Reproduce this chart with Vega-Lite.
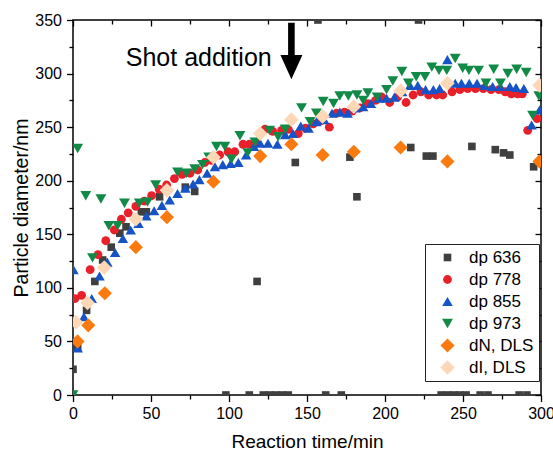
{
  "$schema": "https://vega.github.io/schema/vega-lite/v6.json",
  "autosize": {"type": "none"},
  "padding": {"left": 73, "top": 20, "right": 12, "bottom": 57},
  "width": 468,
  "height": 375,
  "config": {
    "view": {"stroke": "#000", "strokeWidth": 1.5},
    "font": "Liberation Sans",
    "axis": {"grid": false, "domain": false, "labelFont": "Liberation Sans", "titleFont": "Liberation Sans", "labelColor": "#000", "titleColor": "#000", "tickColor": "#000", "tickWidth": 1.3, "titleFontWeight": "normal", "labelFlush": false, "labelOverlap": false}
  },
  "datasets": {
    "pts": [
      {"series": "dp 636", "time": 0, "diameter": 24},
      {"series": "dp 636", "time": 3, "diameter": 45},
      {"series": "dp 636", "time": 8.7, "diameter": 79},
      {"series": "dp 636", "time": 14, "diameter": 106},
      {"series": "dp 636", "time": 19, "diameter": 126},
      {"series": "dp 636", "time": 24.5, "diameter": 138},
      {"series": "dp 636", "time": 30, "diameter": 151},
      {"series": "dp 636", "time": 34, "diameter": 157},
      {"series": "dp 636", "time": 43.8, "diameter": 171},
      {"series": "dp 636", "time": 47, "diameter": 171},
      {"series": "dp 636", "time": 55.5, "diameter": 185},
      {"series": "dp 636", "time": 72, "diameter": 194},
      {"series": "dp 636", "time": 78, "diameter": 190},
      {"series": "dp 636", "time": 98, "diameter": 0},
      {"series": "dp 636", "time": 113, "diameter": 0},
      {"series": "dp 636", "time": 118, "diameter": 106},
      {"series": "dp 636", "time": 122, "diameter": 0},
      {"series": "dp 636", "time": 126, "diameter": 0},
      {"series": "dp 636", "time": 130, "diameter": 0},
      {"series": "dp 636", "time": 134, "diameter": 0},
      {"series": "dp 636", "time": 138, "diameter": 0},
      {"series": "dp 636", "time": 142.5, "diameter": 217},
      {"series": "dp 636", "time": 157, "diameter": 350},
      {"series": "dp 636", "time": 162, "diameter": 0},
      {"series": "dp 636", "time": 172, "diameter": 0},
      {"series": "dp 636", "time": 177.5, "diameter": 222},
      {"series": "dp 636", "time": 182, "diameter": 185},
      {"series": "dp 636", "time": 216.5, "diameter": 231},
      {"series": "dp 636", "time": 221.5, "diameter": 350},
      {"series": "dp 636", "time": 226.5, "diameter": 223},
      {"series": "dp 636", "time": 230.7, "diameter": 223},
      {"series": "dp 636", "time": 236, "diameter": 0},
      {"series": "dp 636", "time": 240, "diameter": 0},
      {"series": "dp 636", "time": 244, "diameter": 0},
      {"series": "dp 636", "time": 248, "diameter": 0},
      {"series": "dp 636", "time": 252, "diameter": 0},
      {"series": "dp 636", "time": 255.7, "diameter": 232},
      {"series": "dp 636", "time": 261, "diameter": 0},
      {"series": "dp 636", "time": 266, "diameter": 0},
      {"series": "dp 636", "time": 270.7, "diameter": 229},
      {"series": "dp 636", "time": 276, "diameter": 226},
      {"series": "dp 636", "time": 280, "diameter": 224},
      {"series": "dp 636", "time": 286, "diameter": 0},
      {"series": "dp 636", "time": 291, "diameter": 0},
      {"series": "dp 636", "time": 295.3, "diameter": 213},

      {"series": "dp 778", "time": 1.2, "diameter": 90},
      {"series": "dp 778", "time": 5.5, "diameter": 93},
      {"series": "dp 778", "time": 11, "diameter": 117},
      {"series": "dp 778", "time": 16, "diameter": 131},
      {"series": "dp 778", "time": 21, "diameter": 144},
      {"series": "dp 778", "time": 26.5, "diameter": 154},
      {"series": "dp 778", "time": 31, "diameter": 164},
      {"series": "dp 778", "time": 35.4, "diameter": 170},
      {"series": "dp 778", "time": 40.3, "diameter": 176},
      {"series": "dp 778", "time": 45.7, "diameter": 181},
      {"series": "dp 778", "time": 50.4, "diameter": 186},
      {"series": "dp 778", "time": 55.3, "diameter": 192},
      {"series": "dp 778", "time": 60, "diameter": 196},
      {"series": "dp 778", "time": 65, "diameter": 202},
      {"series": "dp 778", "time": 70, "diameter": 206},
      {"series": "dp 778", "time": 75, "diameter": 207},
      {"series": "dp 778", "time": 80, "diameter": 210},
      {"series": "dp 778", "time": 84.5, "diameter": 217},
      {"series": "dp 778", "time": 88.8, "diameter": 219},
      {"series": "dp 778", "time": 94, "diameter": 224},
      {"series": "dp 778", "time": 99.4, "diameter": 227},
      {"series": "dp 778", "time": 103.7, "diameter": 227},
      {"series": "dp 778", "time": 109, "diameter": 234},
      {"series": "dp 778", "time": 113, "diameter": 234},
      {"series": "dp 778", "time": 117.6, "diameter": 236},
      {"series": "dp 778", "time": 123, "diameter": 248},
      {"series": "dp 778", "time": 128, "diameter": 246},
      {"series": "dp 778", "time": 133.7, "diameter": 247},
      {"series": "dp 778", "time": 138, "diameter": 248},
      {"series": "dp 778", "time": 144.4, "diameter": 244},
      {"series": "dp 778", "time": 149, "diameter": 249},
      {"series": "dp 778", "time": 154, "diameter": 253},
      {"series": "dp 778", "time": 159, "diameter": 256},
      {"series": "dp 778", "time": 164.3, "diameter": 250},
      {"series": "dp 778", "time": 169, "diameter": 263},
      {"series": "dp 778", "time": 174, "diameter": 264},
      {"series": "dp 778", "time": 179, "diameter": 265},
      {"series": "dp 778", "time": 184, "diameter": 268},
      {"series": "dp 778", "time": 189, "diameter": 272},
      {"series": "dp 778", "time": 194, "diameter": 275},
      {"series": "dp 778", "time": 198, "diameter": 278},
      {"series": "dp 778", "time": 203, "diameter": 273},
      {"series": "dp 778", "time": 208, "diameter": 278},
      {"series": "dp 778", "time": 213.5, "diameter": 273},
      {"series": "dp 778", "time": 218, "diameter": 280},
      {"series": "dp 778", "time": 223, "diameter": 283},
      {"series": "dp 778", "time": 228, "diameter": 280},
      {"series": "dp 778", "time": 233, "diameter": 280},
      {"series": "dp 778", "time": 237, "diameter": 280},
      {"series": "dp 778", "time": 243, "diameter": 283},
      {"series": "dp 778", "time": 248, "diameter": 285},
      {"series": "dp 778", "time": 253, "diameter": 286},
      {"series": "dp 778", "time": 258, "diameter": 286},
      {"series": "dp 778", "time": 263, "diameter": 286},
      {"series": "dp 778", "time": 268, "diameter": 285},
      {"series": "dp 778", "time": 273, "diameter": 285},
      {"series": "dp 778", "time": 277, "diameter": 283},
      {"series": "dp 778", "time": 281, "diameter": 281},
      {"series": "dp 778", "time": 285, "diameter": 281},
      {"series": "dp 778", "time": 288, "diameter": 281},
      {"series": "dp 778", "time": 291.5, "diameter": 247},
      {"series": "dp 778", "time": 297.5, "diameter": 258},

      {"series": "dp 855", "time": 0.3, "diameter": 117},
      {"series": "dp 855", "time": 3, "diameter": 44},
      {"series": "dp 855", "time": 7, "diameter": 73},
      {"series": "dp 855", "time": 12, "diameter": 90},
      {"series": "dp 855", "time": 17, "diameter": 111},
      {"series": "dp 855", "time": 22, "diameter": 124},
      {"series": "dp 855", "time": 27, "diameter": 133},
      {"series": "dp 855", "time": 32, "diameter": 146},
      {"series": "dp 855", "time": 37, "diameter": 154},
      {"series": "dp 855", "time": 42, "diameter": 160},
      {"series": "dp 855", "time": 47, "diameter": 167},
      {"series": "dp 855", "time": 52, "diameter": 172},
      {"series": "dp 855", "time": 57, "diameter": 177},
      {"series": "dp 855", "time": 62, "diameter": 182},
      {"series": "dp 855", "time": 67, "diameter": 188},
      {"series": "dp 855", "time": 72, "diameter": 193},
      {"series": "dp 855", "time": 77, "diameter": 197},
      {"series": "dp 855", "time": 81, "diameter": 201},
      {"series": "dp 855", "time": 86, "diameter": 207},
      {"series": "dp 855", "time": 91, "diameter": 213},
      {"series": "dp 855", "time": 96, "diameter": 215},
      {"series": "dp 855", "time": 101, "diameter": 216},
      {"series": "dp 855", "time": 106, "diameter": 217},
      {"series": "dp 855", "time": 111, "diameter": 224},
      {"series": "dp 855", "time": 116, "diameter": 232},
      {"series": "dp 855", "time": 120, "diameter": 235},
      {"series": "dp 855", "time": 125, "diameter": 235},
      {"series": "dp 855", "time": 131, "diameter": 234},
      {"series": "dp 855", "time": 136, "diameter": 243},
      {"series": "dp 855", "time": 141, "diameter": 244},
      {"series": "dp 855", "time": 146, "diameter": 251},
      {"series": "dp 855", "time": 151, "diameter": 249},
      {"series": "dp 855", "time": 156, "diameter": 255},
      {"series": "dp 855", "time": 161, "diameter": 257},
      {"series": "dp 855", "time": 166, "diameter": 263},
      {"series": "dp 855", "time": 171, "diameter": 264},
      {"series": "dp 855", "time": 176, "diameter": 263},
      {"series": "dp 855", "time": 181, "diameter": 268},
      {"series": "dp 855", "time": 186, "diameter": 269},
      {"series": "dp 855", "time": 191, "diameter": 272},
      {"series": "dp 855", "time": 196, "diameter": 277},
      {"series": "dp 855", "time": 201, "diameter": 277},
      {"series": "dp 855", "time": 206, "diameter": 278},
      {"series": "dp 855", "time": 211, "diameter": 283},
      {"series": "dp 855", "time": 216, "diameter": 289},
      {"series": "dp 855", "time": 221, "diameter": 289},
      {"series": "dp 855", "time": 226, "diameter": 285},
      {"series": "dp 855", "time": 231, "diameter": 285},
      {"series": "dp 855", "time": 235, "diameter": 286},
      {"series": "dp 855", "time": 240, "diameter": 313},
      {"series": "dp 855", "time": 245, "diameter": 291},
      {"series": "dp 855", "time": 249, "diameter": 291},
      {"series": "dp 855", "time": 254, "diameter": 291},
      {"series": "dp 855", "time": 259, "diameter": 291},
      {"series": "dp 855", "time": 264, "diameter": 289},
      {"series": "dp 855", "time": 269, "diameter": 288},
      {"series": "dp 855", "time": 274, "diameter": 288},
      {"series": "dp 855", "time": 280, "diameter": 288},
      {"series": "dp 855", "time": 284, "diameter": 287},
      {"series": "dp 855", "time": 289, "diameter": 286},
      {"series": "dp 855", "time": 294, "diameter": 252},
      {"series": "dp 855", "time": 299, "diameter": 266},

      {"series": "dp 973", "time": 0, "diameter": 0},
      {"series": "dp 973", "time": 3, "diameter": 230},
      {"series": "dp 973", "time": 8.2, "diameter": 186},
      {"series": "dp 973", "time": 12.5, "diameter": 128},
      {"series": "dp 973", "time": 17.9, "diameter": 183},
      {"series": "dp 973", "time": 23, "diameter": 158},
      {"series": "dp 973", "time": 28.6, "diameter": 158},
      {"series": "dp 973", "time": 33, "diameter": 179},
      {"series": "dp 973", "time": 42.5, "diameter": 179},
      {"series": "dp 973", "time": 47.8, "diameter": 180},
      {"series": "dp 973", "time": 53, "diameter": 196},
      {"series": "dp 973", "time": 67, "diameter": 208},
      {"series": "dp 973", "time": 72.7, "diameter": 207},
      {"series": "dp 973", "time": 78, "diameter": 211},
      {"series": "dp 973", "time": 83, "diameter": 215},
      {"series": "dp 973", "time": 87, "diameter": 222},
      {"series": "dp 973", "time": 92, "diameter": 232},
      {"series": "dp 973", "time": 97.3, "diameter": 232},
      {"series": "dp 973", "time": 101.6, "diameter": 220},
      {"series": "dp 973", "time": 107, "diameter": 242},
      {"series": "dp 973", "time": 112, "diameter": 226},
      {"series": "dp 973", "time": 116.6, "diameter": 236},
      {"series": "dp 973", "time": 126, "diameter": 247},
      {"series": "dp 973", "time": 131.5, "diameter": 241},
      {"series": "dp 973", "time": 136, "diameter": 248},
      {"series": "dp 973", "time": 146.5, "diameter": 268},
      {"series": "dp 973", "time": 152, "diameter": 255},
      {"series": "dp 973", "time": 156, "diameter": 263},
      {"series": "dp 973", "time": 160.4, "diameter": 274},
      {"series": "dp 973", "time": 167, "diameter": 272},
      {"series": "dp 973", "time": 171, "diameter": 279},
      {"series": "dp 973", "time": 176.5, "diameter": 279},
      {"series": "dp 973", "time": 182, "diameter": 280},
      {"series": "dp 973", "time": 186, "diameter": 275},
      {"series": "dp 973", "time": 189, "diameter": 282},
      {"series": "dp 973", "time": 195, "diameter": 278},
      {"series": "dp 973", "time": 201, "diameter": 285},
      {"series": "dp 973", "time": 205, "diameter": 293},
      {"series": "dp 973", "time": 210.8, "diameter": 302},
      {"series": "dp 973", "time": 215, "diameter": 291},
      {"series": "dp 973", "time": 220, "diameter": 297},
      {"series": "dp 973", "time": 225.6, "diameter": 297},
      {"series": "dp 973", "time": 230, "diameter": 306},
      {"series": "dp 973", "time": 234.6, "diameter": 303},
      {"series": "dp 973", "time": 239.6, "diameter": 303},
      {"series": "dp 973", "time": 245, "diameter": 314},
      {"series": "dp 973", "time": 249.8, "diameter": 305},
      {"series": "dp 973", "time": 253.8, "diameter": 303},
      {"series": "dp 973", "time": 260, "diameter": 303},
      {"series": "dp 973", "time": 264.7, "diameter": 291},
      {"series": "dp 973", "time": 269.7, "diameter": 304},
      {"series": "dp 973", "time": 274, "diameter": 291},
      {"series": "dp 973", "time": 278.7, "diameter": 300},
      {"series": "dp 973", "time": 284.4, "diameter": 304},
      {"series": "dp 973", "time": 290.5, "diameter": 301},
      {"series": "dp 973", "time": 294.6, "diameter": 261},
      {"series": "dp 973", "time": 298.6, "diameter": 279},

      {"series": "dN, DLS", "time": 2.9, "diameter": 50},
      {"series": "dN, DLS", "time": 9.8, "diameter": 65},
      {"series": "dN, DLS", "time": 20.4, "diameter": 95},
      {"series": "dN, DLS", "time": 40.3, "diameter": 138},
      {"series": "dN, DLS", "time": 60.2, "diameter": 166},
      {"series": "dN, DLS", "time": 90, "diameter": 199},
      {"series": "dN, DLS", "time": 120, "diameter": 223},
      {"series": "dN, DLS", "time": 140, "diameter": 234},
      {"series": "dN, DLS", "time": 160, "diameter": 224},
      {"series": "dN, DLS", "time": 180, "diameter": 227},
      {"series": "dN, DLS", "time": 210, "diameter": 231},
      {"series": "dN, DLS", "time": 240, "diameter": 218},
      {"series": "dN, DLS", "time": 299, "diameter": 218},

      {"series": "dI, DLS", "time": 1.8, "diameter": 68},
      {"series": "dI, DLS", "time": 9.3, "diameter": 86},
      {"series": "dI, DLS", "time": 20, "diameter": 119},
      {"series": "dI, DLS", "time": 40.3, "diameter": 164},
      {"series": "dI, DLS", "time": 60.2, "diameter": 191},
      {"series": "dI, DLS", "time": 90, "diameter": 222},
      {"series": "dI, DLS", "time": 120, "diameter": 244},
      {"series": "dI, DLS", "time": 140, "diameter": 257},
      {"series": "dI, DLS", "time": 160, "diameter": 260},
      {"series": "dI, DLS", "time": 180, "diameter": 269},
      {"series": "dI, DLS", "time": 210, "diameter": 284},
      {"series": "dI, DLS", "time": 240, "diameter": 291},
      {"series": "dI, DLS", "time": 299, "diameter": 289}
    ]
  },
  "resolve": {"axis": {"x": "independent", "y": "independent"}},
  "layer": [
    {
      "data": {"name": "pts"},
      "mark": {"type": "point", "filled": true, "opacity": 1, "clip": true, "strokeWidth": 0},
      "encoding": {
        "x": {
          "field": "time", "type": "quantitative",
          "scale": {"domain": [0, 300], "nice": false, "zero": false},
          "axis": {
            "orient": "bottom",
            "values": [0, 25, 50, 75, 100, 125, 150, 175, 200, 225, 250, 275, 300],
            "labelExpr": "datum.value % 50 === 0 ? datum.label : ''",
            "labelFontSize": 16, "labelPadding": 4,
            "tickSize": {"condition": {"test": "datum.value % 50 === 0", "value": 6.5}, "value": 4},
            "title": "Reaction time/min", "titleFontSize": 19,
            "titleX": 234, "titleY": 52, "titleBaseline": "alphabetic", "titleAlign": "center"
          }
        },
        "y": {
          "field": "diameter", "type": "quantitative",
          "scale": {"domain": [0, 350], "nice": false, "zero": false},
          "axis": {
            "orient": "left",
            "values": [0, 25, 50, 75, 100, 125, 150, 175, 200, 225, 250, 275, 300, 325, 350],
            "labelExpr": "datum.value % 50 === 0 ? datum.label : ''",
            "labelFontSize": 16, "labelPadding": 5,
            "tickSize": {"condition": {"test": "datum.value % 50 === 0", "value": 6.5}, "value": 4},
            "title": "Particle diameter/nm", "titleFontSize": 19.5,
            "titleX": -45.5, "titleY": 187.5, "titleBaseline": "alphabetic", "titleAlign": "center", "titleAngle": 270
          }
        },
        "color": {
          "field": "series", "type": "nominal",
          "scale": {"domain": ["dp 636", "dp 778", "dp 855", "dp 973", "dN, DLS", "dI, DLS"], "range": ["#3f3f3f", "#e8202a", "#1553c7", "#128a47", "#fa7a0f", "#fdd7b6"]},
          "legend": {
            "title": null, "orient": "none", "legendX": 352, "legendY": 224,
            "strokeColor": "#222", "fillColor": "white", "padding": 5,
            "labelFont": "Liberation Sans", "labelFontSize": 17, "labelColor": "#000",
            "rowPadding": 4, "symbolOffset": 9, "labelOffset": 13
          }
        },
        "shape": {
          "field": "series", "type": "nominal",
          "scale": {"domain": ["dp 636", "dp 778", "dp 855", "dp 973", "dN, DLS", "dI, DLS"], "range": ["square", "circle", "triangle-up", "triangle-down", "M0,-1L1,0L0,1L-1,0Z", "M0,-1L1,0L0,1L-1,0Z"]}
        },
        "size": {
          "field": "series", "type": "nominal",
          "scale": {"type": "ordinal", "domain": ["dp 636", "dp 778", "dp 855", "dp 973", "dN, DLS", "dI, DLS"], "range": [58, 78, 110, 118, 200, 215]}
        }
      }
    },
    {
      "data": {"values": [{"label": "Shot addition"}]},
      "mark": {"type": "text", "font": "Liberation Sans", "fontSize": 25, "align": "center", "baseline": "alphabetic", "color": "#000"},
      "encoding": {
        "x": {
          "datum": 80.6, "type": "quantitative",
          "scale": {"domain": [0, 300], "nice": false, "zero": false},
          "axis": {
            "orient": "top", "labels": false, "title": null,
            "values": [0, 25, 50, 75, 100, 125, 150, 175, 200, 225, 250, 275, 300],
            "tickSize": {"condition": {"test": "datum.value % 50 === 0", "value": -6}, "value": -4}
          }
        },
        "y": {
          "datum": 307, "type": "quantitative",
          "scale": {"domain": [0, 350], "nice": false, "zero": false},
          "axis": {
            "orient": "right", "labels": false, "title": null,
            "values": [0, 25, 50, 75, 100, 125, 150, 175, 200, 225, 250, 275, 300, 325, 350],
            "tickSize": {"condition": {"test": "datum.value % 50 === 0", "value": -6}, "value": -4}
          }
        },
        "text": {"field": "label"}
      }
    },
    {
      "data": {"values": [{"label": "arrow"}]},
      "mark": {"type": "point", "filled": true, "opacity": 1, "color": "#000", "strokeWidth": 0, "size": 484,
        "shape": "M-0.3,-2.57L0.3,-2.57L0.3,0.36L1,0.36L0,2.57L-1,0.36L-0.3,0.36Z"},
      "encoding": {
        "x": {"datum": 140, "type": "quantitative", "scale": {"domain": [0, 300], "nice": false, "zero": false}, "axis": null},
        "y": {"datum": 321, "type": "quantitative", "scale": {"domain": [0, 350], "nice": false, "zero": false}, "axis": null}
      }
    }
  ]
}
